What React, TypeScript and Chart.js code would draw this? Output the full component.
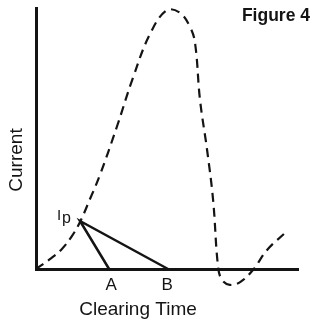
import React, { useEffect, useRef } from "react";
import { Chart, registerables } from "chart.js";

Chart.register(...registerables);

// Clearing time (x) and current (y), arbitrary units 0..100
const curveTime = [0, 5.3, 9.9, 13.7, 16.8, 20.6, 24.4, 30.9, 37.0, 43.5, 50.0, 55.0, 58.8, 60.7, 62.6, 65.3, 67.6, 69.5, 71.0, 74.0, 77.9, 82.8, 88.2, 95.0];
const curveCurrent = [0, 3.8, 7.7, 12.6, 18.0, 26.8, 36.0, 54.6, 73.2, 90.0, 99.2, 98.1, 92.7, 86.6, 64.8, 45.6, 26.4, 0.8, -4.2, -6.1, -5.0, -0.4, 7.3, 13.8];

const peakLabels = ["A", "Ip", "B"];
const peakTime = [27.9, 16.8, 50.4];
const peakCurrent = [0, 18.4, 0];

const FONT = "'Liberation Sans', Arial, Helvetica, sans-serif";
const INK = "#141414";

const labelsPlugin = {
  id: "figureLabels",
  afterDraw(chart: any) {
    const { ctx, scales, chartArea } = chart;
    const xs = scales.x;
    const ys = scales.y;
    ctx.save();
    ctx.fillStyle = INK;
    // A and B under the axis
    ctx.font = `17px ${FONT}`;
    ctx.textAlign = "center";
    ctx.textBaseline = "alphabetic";
    ctx.fillText(peakLabels[0], xs.getPixelForValue(peakTime[0]) + 2, ys.getPixelForValue(0) + 21);
    ctx.fillText(peakLabels[2], xs.getPixelForValue(peakTime[2]) - 1, ys.getPixelForValue(0) + 21);
    // Ip label
    const ipx = xs.getPixelForValue(peakTime[1]);
    const ipy = ys.getPixelForValue(peakCurrent[1]);
    ctx.font = `15px ${FONT}`;
    ctx.textAlign = "left";
    ctx.fillText("I", ipx - 23, ipy - 1);
    ctx.font = `16px ${FONT}`;
    ctx.fillText("p", ipx - 18, ipy + 2);
    // axis titles
    ctx.font = `19px ${FONT}`;
    ctx.textAlign = "center";
    ctx.fillText("Clearing Time", 138, chartArea.bottom + 46);
    ctx.save();
    ctx.translate(22, 160);
    ctx.rotate(-Math.PI / 2);
    ctx.fillText("Current", 0, 0);
    ctx.restore();
    // figure label
    ctx.font = `bold 17.5px ${FONT}`;
    ctx.textAlign = "right";
    ctx.fillText("Figure 4", 310, 21);
    ctx.restore();
  },
};

export default function App() {
  const ref = useRef<HTMLCanvasElement>(null);
  useEffect(() => {
    document.body.style.margin = "0";
    const chart = new Chart(ref.current!, {
      type: "scatter",
      data: {
        datasets: [
          {
            label: "Current",
            data: curveTime.map((t, i) => ({ x: t, y: curveCurrent[i] })),
            showLine: true,
            borderColor: INK,
            borderWidth: 2.2,
            borderDash: [9, 6],
            pointRadius: 0,
            tension: 0.4,
            clip: false,
          } as any,
          {
            label: "Clearing",
            data: peakTime.map((t, i) => ({ x: t, y: peakCurrent[i] })),
            showLine: true,
            borderColor: INK,
            borderWidth: 2.5,
            pointRadius: 0,
            tension: 0,
            clip: false,
          } as any,
        ],
      },
      options: {
        animation: false,
        responsive: true,
        maintainAspectRatio: false,
        layout: { padding: { left: 36, top: 8, right: 14, bottom: 56 } },
        plugins: { legend: { display: false }, tooltip: { enabled: false }, title: { display: false } },
        scales: {
          x: {
            type: "linear",
            min: 0,
            max: 100,
            ticks: { display: false },
            grid: { display: false, drawTicks: false },
            border: { display: true, color: INK, width: 3 },
          },
          y: {
            type: "linear",
            min: 0,
            max: 100,
            ticks: { display: false },
            grid: { display: false, drawTicks: false },
            border: { display: true, color: INK, width: 3 },
          },
        },
      },
      plugins: [labelsPlugin],
    });
    return () => chart.destroy();
  }, []);
  return (
    <div style={{ position: "relative", width: 312, height: 325 }}>
      <canvas ref={ref} />
    </div>
  );
}
